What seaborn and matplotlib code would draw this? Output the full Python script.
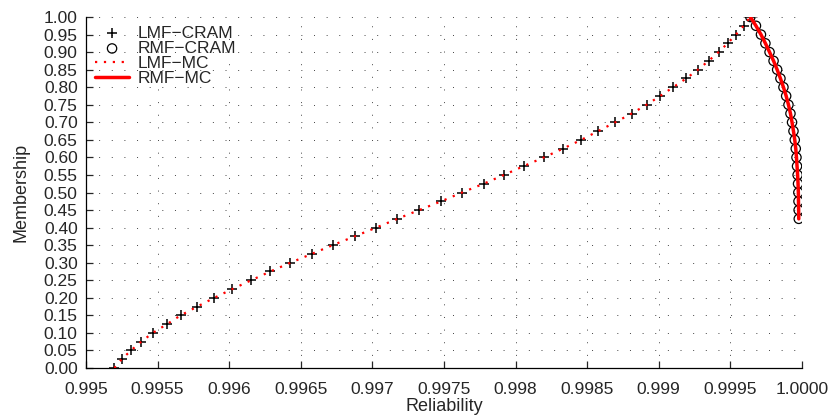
import matplotlib
matplotlib.use("Agg")
import matplotlib.pyplot as plt
import seaborn as sns

# --- Data ------------------------------------------------------------------
# Left branch (LMF): membership 0.000 .. 1.000 in steps of 0.025
lmf_membership = [0.000, 0.025, 0.050, 0.075, 0.100, 0.125, 0.150, 0.175, 0.200,
                  0.225, 0.250, 0.275, 0.300, 0.325, 0.350, 0.375, 0.400, 0.425,
                  0.450, 0.475, 0.500, 0.525, 0.550, 0.575, 0.600, 0.625, 0.650,
                  0.675, 0.700, 0.725, 0.750, 0.775, 0.800, 0.825, 0.850, 0.875,
                  0.900, 0.925, 0.950, 0.975, 1.000]
lmf_reliability = [0.995198, 0.995249, 0.995314, 0.995386, 0.995466, 0.995566,
                   0.995661, 0.995777, 0.995896, 0.996022, 0.996154, 0.996287,
                   0.996428, 0.996576, 0.996723, 0.996876, 0.997027, 0.997174,
                   0.997327, 0.997481, 0.997626, 0.997777, 0.997919, 0.998056,
                   0.998198, 0.998331, 0.998459, 0.998577, 0.998696, 0.998811,
                   0.998915, 0.999010, 0.999101, 0.999192, 0.999274, 0.999348,
                   0.999418, 0.999481, 0.999539, 0.999593, 0.999639]

# Right branch (RMF): membership 1.000 down to 0.425
rmf_membership = [1.000, 0.975, 0.950, 0.925, 0.900, 0.875, 0.850, 0.825, 0.800,
                  0.775, 0.750, 0.725, 0.700, 0.675, 0.650, 0.625, 0.600, 0.575,
                  0.550, 0.525, 0.500, 0.475, 0.450, 0.425]
rmf_reliability = [0.999640, 0.999679, 0.999714, 0.999745, 0.999774, 0.999802,
                   0.999827, 0.999850, 0.999871, 0.999890, 0.999906, 0.999920,
                   0.999931, 0.999941, 0.999950, 0.999957, 0.999962, 0.999966,
                   0.999970, 0.999973, 0.999975, 0.999976, 0.999977, 0.999978]

x_ticks = [0.995, 0.9955, 0.996, 0.9965, 0.997, 0.9975, 0.998, 0.9985, 0.999,
           0.9995, 1.0]
x_tick_labels = ["0.995", "0.9955", "0.996", "0.9965", "0.997", "0.9975",
                 "0.998", "0.9985", "0.999", "0.9995", "1.0000"]
y_ticks = [i * 0.05 for i in range(21)]
y_tick_labels = [f"{v:.2f}" for v in y_ticks]

# --- Plot ------------------------------------------------------------------
sns.set_style("ticks")
plt.rcParams["font.family"] = ["Liberation Sans", "DejaVu Sans"]

fig = plt.figure(figsize=(8.31, 4.19), dpi=100)
ax = fig.add_axes([0.1035, 0.1217, 0.8615, 0.8377])

sns.scatterplot(x=lmf_reliability, y=lmf_membership, marker="+", s=55,
                color="black", linewidth=1.1, label="LMF\u2212CRAM", ax=ax,
                zorder=3)
sns.scatterplot(x=rmf_reliability, y=rmf_membership, marker="o", s=45,
                facecolors="none", edgecolor="black", linewidth=0.9,
                label="RMF\u2212CRAM", ax=ax, zorder=3)
sns.lineplot(x=lmf_reliability, y=lmf_membership, sort=False, color="red",
             linewidth=1.6, linestyle=(0, (1, 3)), label="LMF\u2212MC", ax=ax,
             zorder=4)
sns.lineplot(x=rmf_reliability, y=rmf_membership, sort=False, color="red",
             linewidth=2.5, label="RMF\u2212MC", ax=ax, zorder=4)

ax.set_xlim(0.995, 1.0)
ax.set_ylim(0, 1.0)
ax.set_xticks(x_ticks)
ax.set_xticklabels(x_tick_labels)
ax.set_yticks(y_ticks)
ax.set_yticklabels(y_tick_labels)
ax.tick_params(direction="in", labelsize=12.5, length=5, width=0.9)
ax.tick_params(axis="x", pad=10)
ax.tick_params(axis="y", pad=6)
ax.set_xlabel("Reliability", fontsize=13, labelpad=1)
ax.set_ylabel("Membership", fontsize=13, labelpad=10)

ax.grid(True, color="#444444", linestyle=(0, (1, 12)), linewidth=0.7)
for side in ("top", "right"):
    ax.spines[side].set_visible(False)
for side in ("left", "bottom"):
    ax.spines[side].set_linewidth(0.9)
    ax.spines[side].set_color("black")

ax.legend(loc="upper left", bbox_to_anchor=(0.0, 1.0), frameon=False,
          fontsize=12.5, labelspacing=0.0, handlelength=2.0,
          handletextpad=0.5, borderaxespad=0.1)

fig.savefig("out.png", dpi=100)
